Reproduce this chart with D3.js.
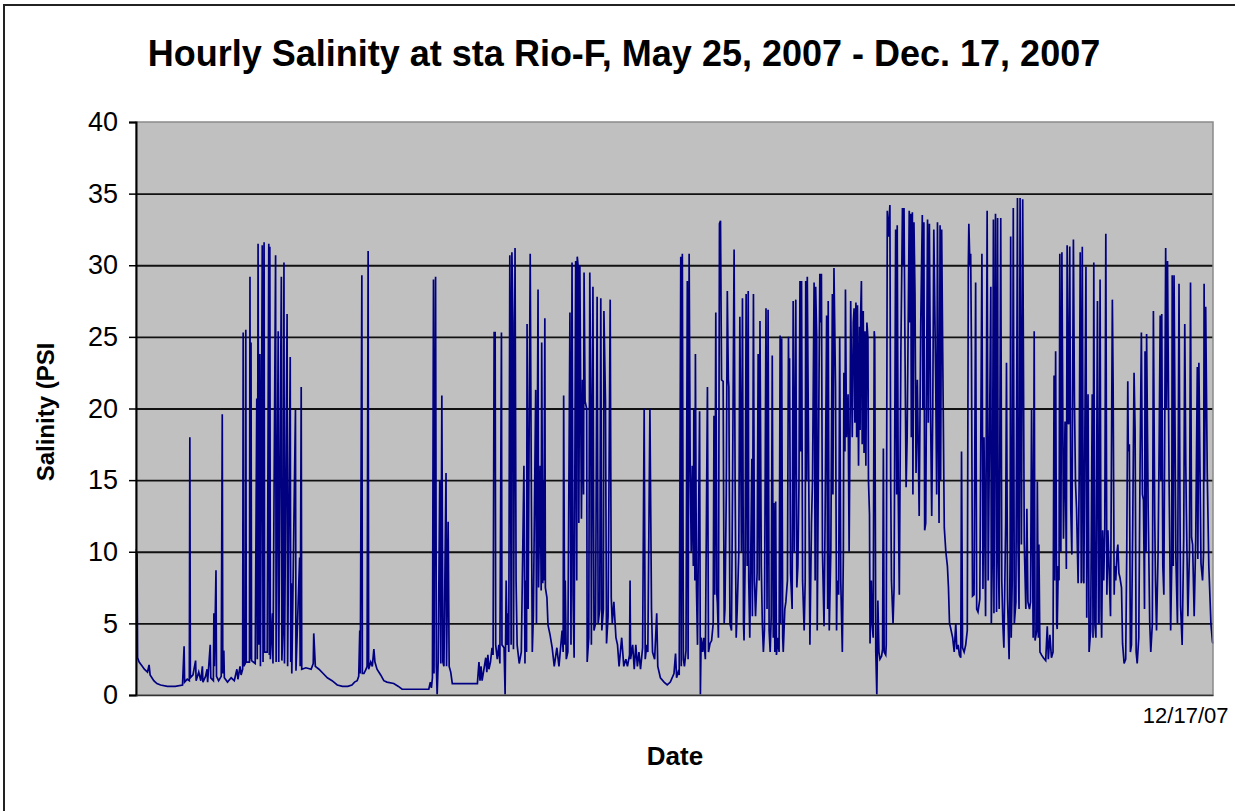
<!DOCTYPE html>
<html><head><meta charset="utf-8">
<script src="https://cdn.jsdelivr.net/npm/d3@7"></script>
<style>html,body{margin:0;padding:0;background:#fff;} svg{display:block;}</style>
</head><body>
<svg id="chart" width="1235" height="811"></svg>
<script>
// ---------- data (day offset from May 25, 2007 00:00, salinity PSU) ----------
const titleText = "Hourly Salinity at sta Rio-F, May 25, 2007 - Dec. 17, 2007";
const yTicks = [0, 5, 10, 15, 20, 25, 30, 35, 40];
const xTickDays = [206];
const xTickLabels = ["12/17/07"];

const segLateMayJune = [
[0,10.2],[0.1,4.8],[0.2,9.9],[0.3,2.6],[0.6,2.3],[1.2,2.0],[1.6,1.8],[2.2,1.6],[2.5,2.1],[2.7,1.4],[3.4,1.0],[4.0,0.8],[4.7,0.7],[6.0,0.6],[7.5,0.6],[8.9,0.7],[9.2,3.4],[9.3,0.9],[9.8,1.1],[10.2,1.0],[10.3,18.0],[10.4,1.2],[10.9,1.4],[11.4,2.4],[11.5,1.0],[12.0,1.6],[12.4,1.0],[12.7,2.0],[12.8,0.9],[13.3,1.3],[13.6,1.8],[13.7,0.9],[14.2,3.5],[14.3,1.2],[14.8,1.0],[14.9,5.7],[15.0,2.0],[15.3,8.7],[15.4,1.3],[15.8,1.0],[16.3,1.3],[16.5,19.6],[16.6,1.5],[16.8,3.1],[16.9,1.2],[17.5,0.9],[18.2,1.2],[18.8,1.0],[19.3,1.8],[19.5,1.1],[19.9,2.0],[20.1,1.4],[20.4,1.8],[20.5,25.3],[20.6,2.0],[20.9,2.2],[21.0,25.5],[21.1,2.3],[21.7,2.3],[21.8,29.2],[21.9,2.5],[22.0,24.6],[22.1,2.4],[22.8,2.2],[23.1,20.7],[23.2,2.5],[23.35,31.5],[23.5,3.5],[23.7,23.8],[23.8,2.0],[24.15,31.4],[24.3,2.3],[24.45,21.7],[24.5,31.6],[24.6,3.0],[25.1,3.0],[25.4,31.5],[25.5,2.8],[25.6,31.3],[25.7,2.5],[26.1,5.7],[26.2,2.2],[26.7,30.7],[26.8,2.3],[27.2,25.4],[27.3,2.3],[27.8,29.2],[27.9,2.4],[28.1,4.6],[28.3,30.2],[28.4,2.2],[28.9,26.6],[29.0,2.0],[29.5,23.6],[29.6,2.3],[29.7,7.8],[29.8,1.5],[30.5,19.9],[30.6,1.7],[31.3,9.6],[31.4,2.0],[31.6,21.5],[31.7,1.8],[32.5,1.9],[33.5,1.8],[33.9,2.2],[34.0,4.3],[34.3,2.0]
];

const segJulyAug = [
[35.0,1.8],[35.8,1.5],[36.6,1.2],[37.5,1.0],[38.5,0.7],[39.5,0.6],[40.5,0.6],[41.3,0.7],[41.8,0.9],[42.3,1.0],[42.6,1.3],[42.8,4.5],[42.9,1.5],[43.2,29.3],[43.3,1.5],[43.6,1.5],[44.0,1.8],[44.2,2.0],[44.4,31.0],[44.5,1.8],[44.9,2.3],[45.2,2.0],[45.5,3.2],[45.7,2.3],[46.1,1.8],[46.8,1.4],[47.4,1.0],[48.0,0.9],[49.3,0.8],[50.2,0.6],[50.9,0.4],[53.0,0.4],[56.0,0.4],[56.3,0.9],[56.5,0.5],[56.7,1.2],[56.9,29.0],[57.0,1.5],[57.3,29.2],[57.45,2.0],[57.6,0.0],[57.8,2.3],[58.1,15.0],[58.3,2.2],[58.5,20.9],[58.7,2.3],[58.9,2.0],[59.3,15.5],[59.4,2.0],[59.7,12.1],[59.9,2.0],[60.2,1.6],[60.5,0.8],[65.3,0.8],[65.6,2.3],[65.8,1.0],[66.0,2.0],[66.2,1.0],[66.9,2.6],[67.1,1.6],[67.3,2.8],[67.5,1.8],[67.8,2.3],[68.1,3.3],[68.3,2.8],[68.5,25.3]
];

const segAugSep = [
[68.7,25.3],[68.8,3.5],[69.1,2.5],[69.4,3.5],[69.6,2.2],[69.9,25.3],[70.0,3.5],[70.4,3.3],[70.6,0.0],[70.8,8.0],[71.0,3.5],[71.1,5.7],[71.3,3.0],[71.5,30.7],[71.6,26.3],[71.75,3.5],[71.9,30.9],[72.1,26.0],[72.2,3.2],[72.5,31.2],[72.7,8.0],[72.9,3.5],[73.3,2.2],[73.7,3.0],[74.2,16.0],[74.4,2.2],[74.5,8.0],[74.7,3.0],[74.8,25.9],[75.0,6.0],[75.4,30.8],[75.6,15.5],[75.8,3.0],[76.0,5.5],[76.45,21.3],[76.6,5.0],[76.9,28.3],[77.0,7.5],[77.3,16.0],[77.5,7.3],[77.6,24.6],[77.8,7.8],[77.9,15.0],[78.0,8.0],[78.2,26.3],[78.3,7.5],[78.6,6.8],[78.8,4.9],[79.2,4.2],[79.6,3.3],[80.0,2.0],[80.5,3.3],[80.9,2.0],[81.5,4.5],[81.7,3.0],[81.8,20.9],[82.0,3.5],[82.1,8.0],[82.3,2.5],[82.6,3.0],[83.0,26.7],[83.2,3.5],[83.4,30.2],[83.6,7.0],[83.8,2.6],[84.1,30.3],[84.3,8.0],[84.4,30.6],[84.6,29.8],[84.7,12.0],[84.9,30.0],[85.2,12.3],[85.4,22.0],[85.6,14.0],[85.7,29.5],[85.9,20.5],[86.2,20.0],[86.3,2.3],[86.6,4.0],[86.8,29.5],[87.0,20.0],[87.1,3.5],[87.4,28.5],[87.6,4.5],[87.9,5.0],[88.2,27.8],[88.4,5.0],[88.7,6.0],[88.9,27.7],[89.1,4.5],[89.4,6.0],[89.5,26.8],[89.8,20.4],[90.0,3.6],[90.3,5.5],[90.7,27.6],[90.9,6.8],[91.1,5.0],[91.4,6.5],[91.8,4.0],[92.1,3.5],[92.4,2.0],[92.9,4.0],[93.3,2.0],[93.7,2.5],[94.0,2.0],[94.4,2.8],[94.5,8.0],[94.6,2.5],[95.0,3.5],[95.3,1.8],[95.6,3.5],[95.9,2.0],[96.2,3.0],[96.5,1.8],[96.9,3.3],[97.2,20.0],[97.4,2.5],[97.7,3.5],[97.9,3.0],[98.3,20.0],[98.6,6.0],[98.8,3.0],[99.2,2.5],[99.6,5.7],[99.8,2.0],[100.3,1.2],[101.0,0.9],[101.6,0.7],[102.2,0.9],[102.9,1.5]
];

const segSepOct = [
[103.2,2.9],[103.4,1.2],[103.7,1.6],[103.9,1.4],[104.2,30.6],[104.3,2.0],[104.5,30.8],[104.7,2.5],[104.9,2.0],[105.2,3.1],[105.45,28.9],[105.6,2.5],[105.8,30.8],[106.0,16.2],[106.2,10.0],[106.4,16.0],[106.6,9.0],[106.7,20.0],[106.9,8.0],[107.0,23.8],[107.2,7.5],[107.4,3.5],[107.6,12.0],[107.8,19.8],[107.95,0.0],[108.1,4.0],[108.4,3.0],[108.6,4.0],[108.9,2.5],[109.3,21.5],[109.5,3.0],[109.8,3.6],[110.1,3.8],[110.4,5.0],[110.55,19.5],[110.7,7.0],[110.9,26.7],[111.1,7.0],[111.2,6.4],[111.4,4.0],[111.6,32.9],[111.8,33.1],[112.0,22.0],[112.3,21.9],[112.5,5.0],[112.65,6.0],[112.9,14.0],[113.1,28.2],[113.3,22.0],[113.4,21.5],[113.6,5.0],[113.9,4.5],[114.1,14.5],[114.4,31.1],[114.6,14.5],[114.8,4.0],[115.0,6.0],[115.3,10.0],[115.5,26.4],[115.8,10.0],[116.0,27.7],[116.2,5.0],[116.3,3.8],[116.5,9.0],[116.7,28.0],[116.9,9.0],[117.1,28.2],[117.2,8.0],[117.4,4.0],[117.8,16.5],[117.9,5.5],[118.1,28.0],[118.3,8.0],[118.5,5.5],[118.8,8.5],[119.0,23.8],[119.2,8.0],[119.35,26.1],[119.6,9.0],[119.8,5.0],[120.0,3.0],[120.2,4.5],[120.5,27.0],[120.7,6.0],[120.9,26.9],[121.1,4.5],[121.3,3.0],[121.5,5.5],[121.7,23.7],[121.9,4.0],[122.0,13.4],[122.2,3.0],[122.35,13.5],[122.5,2.8],[122.8,4.0],[123.0,3.0],[123.2,25.1],[123.3,5.0],[123.5,24.9],[123.7,4.0],[123.8,3.0],[124.1,6.0],[124.3,6.5],[124.6,8.0],[124.8,25.0],[124.9,20.0],[125.0,23.5],[125.2,8.5],[125.5,6.0],[125.7,27.5],[125.9,10.0],[126.2,27.6],[126.4,7.5],[126.6,9.0],[126.8,14.5],[127.0,28.9],[127.1,17.0],[127.3,28.9],[127.5,8.0],[127.8,4.5],[128.0,8.0],[128.1,28.9],[128.3,15.0],[128.4,29.2],[128.7,14.0],[128.9,3.5],[129.2,12.0],[129.4,15.0],[129.7,28.8],[129.9,8.0],[130.0,28.5],[130.2,25.0],[130.3,4.5],[130.6,20.0],[130.8,29.4],[131.0,26.0],[131.1,29.4],[131.3,10.0],[131.6,4.8],[131.8,12.0],[132.1,26.5],[132.3,6.0],[132.4,27.5],[132.6,4.5],[132.9,10.0],[133.2,28.0],[133.3,14.0],[133.5,29.8],[133.8,21.5],[134.0,4.5],[134.1,8.0],[134.4,7.0],[134.6,25.0],[134.8,8.0],[135.1,3.0],[135.3,10.0],[135.4,22.5],[135.6,17.0],[135.7,28.3],[135.9,18.0],[136.2,21.0],[136.4,10.0],[136.6,20.0],[136.7,27.5],[137.0,18.0],[137.2,26.0]
];

const segOctNov = [
[137.35,27.0],[137.5,19.0],[137.7,27.4],[137.85,18.0],[138.0,27.2],[138.2,16.0],[138.4,25.7],[138.5,18.5],[138.6,26.5],[138.75,28.9],[138.9,17.5],[139.1,26.8],[139.25,16.9],[139.45,25.4],[139.6,16.0],[139.8,26.0],[140.0,24.9],[140.1,15.0],[140.3,12.6],[140.4,3.6],[140.65,8.0],[140.8,5.0],[141.0,4.0],[141.2,25.4],[141.3,24.9],[141.5,3.0],[141.7,0.0],[141.8,3.0],[141.9,6.6],[142.1,3.0],[142.3,2.5],[142.6,2.7],[142.8,3.2],[142.95,17.2],[143.1,3.0],[143.4,2.8],[143.5,3.5],[143.7,33.8],[143.9,32.0],[144.2,34.2],[144.35,15.0],[144.5,8.0],[144.8,5.0],[145.0,7.5],[145.3,32.5],[145.5,14.0],[145.6,32.8],[145.8,14.0],[146.0,7.0],[146.3,24.0],[146.6,34.0],[146.8,30.0],[146.9,34.0],[147.1,23.5],[147.3,14.5],[147.5,18.0],[147.9,33.8],[148.0,26.0],[148.2,33.6],[148.3,18.0],[148.5,33.7],[148.6,14.0],[148.8,33.0],[149.0,28.0],[149.2,15.5],[149.45,22.0],[149.8,12.5],[150.1,26.0],[150.4,33.5],[150.5,20.0],[150.7,33.0],[150.85,11.5],[151.05,12.0],[151.4,33.2],[151.55,19.0],[151.75,32.9],[152.0,19.0],[152.2,12.5],[152.4,20.0],[152.6,32.5],[152.96,22.0],[153.15,14.0],[153.3,33.0],[153.5,17.0],[153.6,12.0],[153.8,32.8],[153.9,15.0],[154.1,32.5],[154.3,24.0],[154.6,11.7],[154.9,10.0],[155.2,9.0],[155.4,7.5],[155.6,5.0],[155.8,4.7],[156.2,4.0],[156.5,3.0],[156.8,5.0],[157.0,3.2],[157.25,3.5],[157.5,2.8],[157.75,2.6],[157.9,17.0],[158.1,3.3],[158.4,3.0],[158.7,3.5],[159.0,4.5],[159.2,30.0],[159.3,32.9],[159.5,30.0],[159.65,30.8],[159.8,24.1],[160.0,6.9],[160.3,7.0],[160.6,28.8],[160.8,6.0],[161.05,5.8],[161.4,6.7],[161.8,30.8],[162.0,7.4],[162.2,18.0],[162.5,5.5],[162.8,33.8],[163.0,8.0],[163.3,20.0],[163.5,28.5],[163.6,5.0],[163.8,10.0],[164.0,33.2],[164.1,5.7],[164.4,33.6],[164.6,5.8],[164.8,33.3],[164.9,10.4],[165.1,6.0],[165.4,33.3],[165.6,8.0],[165.8,5.0],[166.0,3.3],[166.35,12.0],[166.5,23.2],[166.7,6.7],[167.0,2.5],[167.2,10.0],[167.3,32.0],[167.4,4.0],[167.6,8.0],[167.8,34.0],[168.0,5.0],[168.3,6.5],[168.6,34.7],[168.7,10.7],[168.9,6.0],[169.1,34.7],[169.35,10.5],[169.6,34.6],[169.9,10.6],[170.2,6.0],[170.4,13.0],[170.6,6.5],[170.9,6.0],[171.1,6.5],[171.3,20.0],[171.6,4.0],[171.8,25.4]
];

const segNovDec = [
[171.96,3.8],[172.3,4.5],[172.4,14.9],[172.6,4.0],[172.7,10.5],[172.9,3.0],[173.2,2.8],[173.55,2.6],[174.0,2.4],[174.3,4.8],[174.5,2.5],[174.8,4.2],[175.1,2.6],[175.4,3.0],[175.6,22.3],[175.7,8.0],[175.9,24.0],[176.1,5.0],[176.2,4.6],[176.4,9.0],[176.55,8.0],[176.7,30.8],[176.9,10.0],[177.1,30.9],[177.4,10.9],[177.7,19.1],[177.95,8.8],[178.1,31.4],[178.3,19.0],[178.4,18.9],[178.6,31.3],[178.8,13.0],[179.0,9.8],[179.3,31.8],[179.5,20.5],[179.7,14.8],[179.9,13.0],[180.2,7.8],[180.4,15.0],[180.6,30.9],[180.8,7.8],[181.0,31.3],[181.2,8.0],[181.3,7.8],[181.7,29.9],[181.85,5.4],[182.1,21.0],[182.3,3.0],[182.6,4.5],[182.9,21.0],[183.05,4.0],[183.2,30.2],[183.4,5.0],[183.6,4.0],[183.9,27.5],[184.1,5.0],[184.2,5.0],[184.4,29.0],[184.6,6.0],[184.7,4.0],[184.9,11.5],[185.1,8.0],[185.3,11.5],[185.5,32.2],[185.7,7.0],[185.9,11.5],[186.2,8.0],[186.4,5.5],[186.75,27.6],[186.9,21.5],[187.1,7.0],[187.2,9.0],[187.4,8.0],[187.65,10.0],[187.8,10.5],[188.0,8.5],[188.2,8.2],[188.5,7.5],[188.7,3.6],[189.0,2.2],[189.3,2.5],[189.5,9.8],[189.7,21.9],[189.8,17.0],[190.0,17.5],[190.2,3.0],[190.4,3.5],[190.65,12.0],[190.9,22.5],[191.1,18.5],[191.3,3.0],[191.5,2.2],[191.8,4.0],[192.05,16.0],[192.3,25.3],[192.5,14.0],[192.7,13.6],[192.9,6.0],[193.0,24.0],[193.2,10.0],[193.3,25.2],[193.6,13.0],[193.9,5.0],[194.1,3.0],[194.4,5.0],[194.6,26.8],[194.85,12.5],[195.0,8.0],[195.2,4.5],[195.5,10.0],[195.7,17.5],[195.9,26.5],[196.0,15.0],[196.2,26.6],[196.4,9.0],[196.6,7.0],[196.95,31.2],[197.1,20.0],[197.3,30.3],[197.6,15.0],[197.9,4.5],[198.1,9.0],[198.2,29.3],[198.4,9.0],[198.55,29.3],[198.9,9.6],[199.2,5.0],[199.5,28.7],[199.7,12.0],[199.8,6.2],[200.1,3.5],[200.4,11.0],[200.6,25.9],[200.8,16.0],[200.9,13.0],[201.2,5.5],[201.5,10.0],[201.7,28.8],[201.9,11.0],[202.1,10.5],[202.4,5.5],[202.7,11.0],[203.0,22.9],[203.1,9.5],[203.3,23.2],[203.7,9.2],[204.0,8.0],[204.2,10.0],[204.3,28.7],[204.4,15.0],[204.6,27.1],[204.9,15.5],[205.2,9.0],[205.6,5.0],[205.9,3.7],[206.0,3.6]
];

const series = [].concat(segLateMayJune, segJulyAug, segAugSep, segSepOct, segOctNov, segNovDec)
  .map(d => ({day: d[0], psu: d[1]}));

// ---------- layout ----------
const svg = d3.select("#chart");
const plot = {left: 136, right: 1213, top: 122, bottom: 695};
const FONT = "'Liberation Sans', Arial, Helvetica, sans-serif";

const x = d3.scaleLinear().domain([0, 206]).range([plot.left, plot.right]);
const y = d3.scaleLinear().domain([0, 40]).range([plot.bottom, plot.top]);

svg.append("rect").attr("width", 1235).attr("height", 811).attr("fill", "#fff");

// chart-area border (only top and left visible in the frame)
svg.append("path")
  .attr("d", "M4,811 L4,5 L1235,5")
  .attr("fill", "none").attr("stroke", "#222").attr("stroke-width", 2);

// plot area background
svg.append("rect")
  .attr("x", plot.left).attr("y", plot.top)
  .attr("width", plot.right - plot.left).attr("height", plot.bottom - plot.top)
  .attr("fill", "#c0c0c0");

// gridlines
svg.append("g")
  .attr("transform", `translate(${plot.left},0)`)
  .call(d3.axisLeft(y).tickValues(yTicks.filter(v => v > 0 && v < 40))
        .tickSize(-(plot.right - plot.left)).tickFormat(""))
  .call(g => g.select(".domain").remove())
  .call(g => g.selectAll("line").attr("stroke", "#111").attr("stroke-width", 1.8));

// data line
const line = d3.line().x(d => x(d.day)).y(d => y(d.psu));
svg.append("path")
  .datum(series)
  .attr("d", line)
  .attr("fill", "none")
  .attr("stroke", "#000080")
  .attr("stroke-width", 1.7)
  .attr("stroke-linejoin", "miter");

// plot border
svg.append("rect")
  .attr("x", plot.left).attr("y", plot.top)
  .attr("width", plot.right - plot.left).attr("height", plot.bottom - plot.top)
  .attr("fill", "none").attr("stroke", "#8a8a8a").attr("stroke-width", 1.5);

// y axis
const yAxis = svg.append("g")
  .attr("transform", `translate(${plot.left},0)`)
  .call(d3.axisLeft(y).tickValues(yTicks).tickSize(7).tickPadding(11));
yAxis.select(".domain").attr("stroke", "#000").attr("stroke-width", 2);
yAxis.selectAll(".tick line").attr("stroke", "#000").attr("stroke-width", 1.5);
yAxis.selectAll(".tick text")
  .attr("font-family", FONT).attr("font-size", 27).attr("fill", "#000");

// x axis
const xAxis = svg.append("g")
  .attr("transform", `translate(0,${plot.bottom})`)
  .call(d3.axisBottom(x).tickValues(xTickDays).tickSize(0)
        .tickFormat((d, i) => xTickLabels[i]));
xAxis.select(".domain").attr("stroke", "#333").attr("stroke-width", 1.5);
xAxis.selectAll(".tick text")
  .attr("font-family", FONT).attr("font-size", 22).attr("fill", "#000")
  .attr("text-anchor", "end").attr("x", 15).attr("y", 12).attr("dy", "0.71em");

// title
svg.append("text")
  .attr("x", 624).attr("y", 66)
  .attr("text-anchor", "middle")
  .attr("font-family", FONT).attr("font-weight", "bold").attr("font-size", 36)
  .attr("fill", "#000")
  .text(titleText);

// axis titles
svg.append("text")
  .attr("x", 675).attr("y", 765)
  .attr("text-anchor", "middle")
  .attr("font-family", FONT).attr("font-weight", "bold").attr("font-size", 26)
  .text("Date");

svg.append("text")
  .attr("transform", "translate(54,412) rotate(-90)")
  .attr("text-anchor", "middle")
  .attr("font-family", FONT).attr("font-weight", "bold").attr("font-size", 24)
  .text("Salinity (PSI");
</script>
</body></html>
